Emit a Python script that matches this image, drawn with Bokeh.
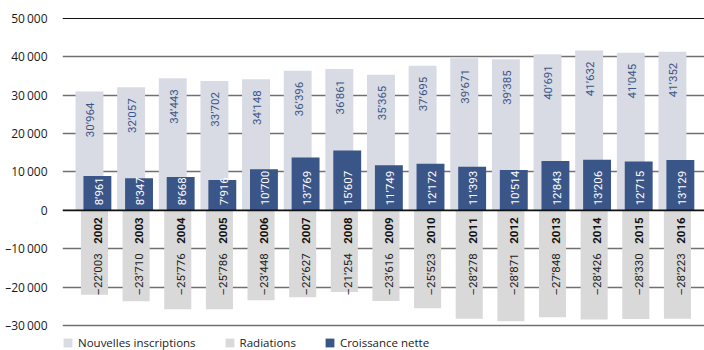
from bokeh.plotting import figure
from bokeh.models import Range1d, FixedTicker, Span, Legend, LegendItem, ColumnDataSource
from bokeh.core.properties import value
from bokeh.embed import file_html
from bokeh.resources import INLINE

years = ["2002", "2003", "2004", "2005", "2006", "2007", "2008", "2009",
         "2010", "2011", "2012", "2013", "2014", "2015", "2016"]
nouvelles = [30964, 32057, 34443, 33702, 34148, 36396, 36861, 35365,
             37695, 39671, 39385, 40691, 41632, 41045, 41352]
radiations = [-22003, -23710, -25776, -25786, -23448, -22627, -21254, -23616,
              -25523, -28278, -28871, -27848, -28426, -28330, -28223]
croissance = [8961, 8347, 8668, 7916, 10700, 13769, 15607, 11749,
              12172, 11393, 10514, 12843, 13206, 12715, 13129]
y_ticks = [-30000, -20000, -10000, 0, 10000, 20000, 30000, 40000, 50000]

FONT = "Open Sans"
LFONT = "Roboto"
C_NEW = "#d8dae4"
C_RAD = "#d9d9d9"
C_NET = "#3a5587"


def fmt(v):
    s = f"{abs(v):,}".replace(",", "\u2019")
    return ("\u2013" + s) if v < 0 else s


def fmt_tick(v):
    s = f"{abs(v):,}".replace(",", "\u2009")
    return ("\u2013" + s) if v < 0 else s


idx = list(range(len(years)))
src = ColumnDataSource(dict(
    x=idx,
    x_new=[i - 0.12 for i in idx],
    x_net=[i + 0.07 for i in idx],
    x_lab_new=[i - 0.10 for i in idx],
    x_lab_net=[i + 0.10 for i in idx],
    x_lab_rad=[i + 0.08 for i in idx],
    new=nouvelles, rad=radiations, net=croissance,
    zero=[0] * len(idx),
    new_lab=[fmt(v) for v in nouvelles],
    rad_lab=[fmt(v) for v in radiations],
    net_lab=[fmt(v) for v in croissance],
    year=years,
))

p = figure(width=704, height=350, output_backend="svg", toolbar_location=None,
           x_range=Range1d(-0.768, 14.65), y_range=Range1d(-36522, 52087),
           min_border_left=62, min_border_right=0, min_border_top=10, min_border_bottom=0)
p.outline_line_color = None
p.xaxis.visible = False
p.xgrid.visible = False

ax = p.yaxis[0]
ax.ticker = FixedTicker(ticks=y_ticks)
ax.major_label_overrides = {t: fmt_tick(t) for t in y_ticks}
ax.axis_line_color = None
ax.major_tick_line_color = None
ax.minor_tick_line_color = None
ax.major_label_standoff = 9
ax.major_label_text_font = FONT
ax.major_label_text_font_size = "12px"
ax.major_label_text_color = "#1a1a1a"

p.ygrid.ticker = FixedTicker(ticks=[t for t in y_ticks if t not in (0, 50000)])
p.ygrid.grid_line_color = "#707070"
p.ygrid.grid_line_width = 1.6

r_new = p.vbar(x="x_new", top="new", bottom=0, width=0.67, source=src,
               fill_color=C_NEW, line_color=None)
r_rad = p.vbar(x="x", top=0, bottom="rad", width=0.65, source=src,
               fill_color=C_RAD, line_color=None)
r_net = p.vbar(x="x_net", top="net", bottom=0, width=0.67, source=src,
               fill_color=C_NET, line_color=None)

p.add_layout(Span(location=0, dimension="width", line_color="#111111", line_width=1.6, level="overlay"))
p.add_layout(Span(location=50000, dimension="width", line_color="#111111", line_width=1.2, level="underlay"))

ang = 3.14159265 / 2
p.text(x="x_lab_new", y="new", text="new_lab", source=src, angle=ang,
       text_align="right", text_baseline="middle", y_offset=11,
       text_font=value(LFONT), text_font_size="11.5px", text_color="#3a5587")
p.text(x="x_lab_net", y="zero", text="net_lab", source=src, angle=ang,
       text_align="left", text_baseline="middle", y_offset=-5,
       text_font=value(LFONT), text_font_size="11.5px", text_color="#ffffff")
p.text(x="x_lab_rad", y="zero", text="year", source=src, angle=ang,
       text_align="right", text_baseline="middle", y_offset=7,
       text_font=value(LFONT), text_font_size="11.5px", text_font_style="bold",
       text_color="#111111")
p.text(x="x_lab_rad", y="zero", text="rad_lab", source=src, angle=ang,
       text_align="right", text_baseline="middle", y_offset=43,
       text_font=value(LFONT), text_font_size="11.5px", text_color="#222222")

legend = Legend(items=[
    LegendItem(label="Nouvelles inscriptions", renderers=[r_new]),
    LegendItem(label="Radiations", renderers=[r_rad]),
    LegendItem(label="Croissance nette", renderers=[r_net]),
], orientation="horizontal", location=(0, 0))
legend.margin = 0
legend.padding = 0
legend.spacing = 28
legend.glyph_width = 11
legend.glyph_height = 11
legend.label_height = 14
legend.label_standoff = 5
legend.label_text_font = FONT
legend.label_text_font_size = "11.5px"
legend.label_text_color = "#222222"
legend.border_line_color = None
legend.background_fill_alpha = 0
p.add_layout(legend)

open("out.html", "w").write(file_html(p, INLINE))
